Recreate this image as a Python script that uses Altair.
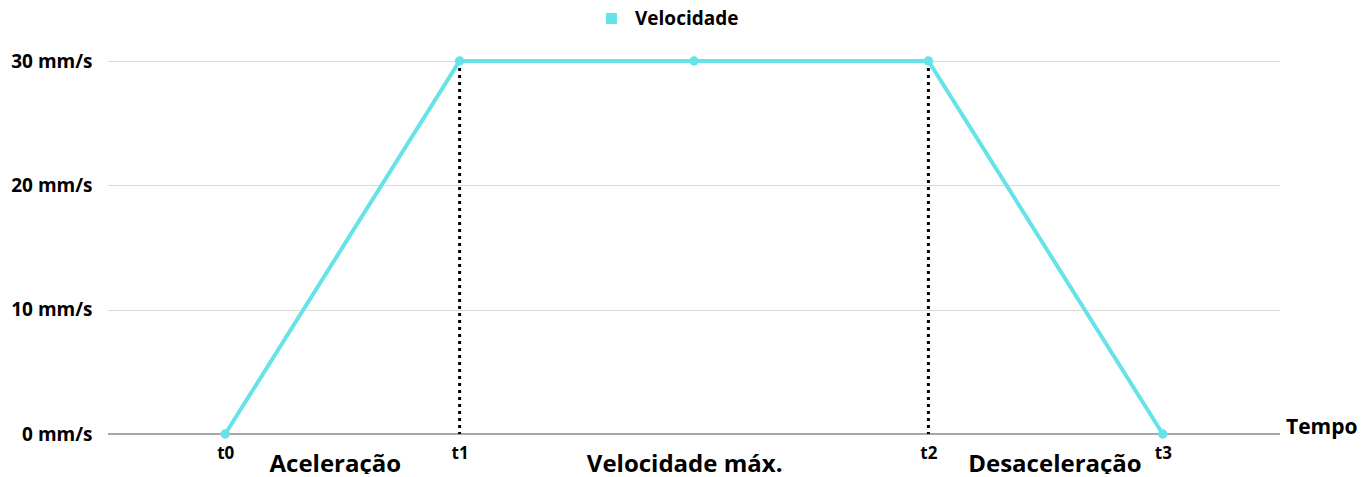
import altair as alt
import pandas as pd

categories = ["t0", "t1", "", "t2", "t3"]
positions = [0, 1, 2, 3, 4]
velocidade = [0, 30, 30, 30, 0]
series_name = "Velocidade"

phase_labels = ["Aceleração", "Velocidade máx.", "Desaceleração"]
phase_pos = [0.47, 1.96, 3.54]

marker_pos = [1, 3]
marker_top = [30, 30]

FONT = "Open Sans"
CYAN = "#66e3e8"

df = pd.DataFrame({"x": positions, "v": velocidade, "cat": categories, "s": [series_name] * 5})
df_phase = pd.DataFrame({"x": phase_pos, "label": phase_labels})
df_rule = pd.DataFrame({"x": marker_pos, "top": marker_top})
df_tempo = pd.DataFrame({"label": ["Tempo"]})

label_expr = "datum.value == 0 ? 't0' : datum.value == 1 ? 't1' : datum.value == 3 ? 't2' : datum.value == 4 ? 't3' : ''"

xscale = alt.Scale(domain=[-0.5, 4.5], nice=False, zero=False)
yscale = alt.Scale(domain=[0, 30], nice=False)

base = alt.Chart(df)

line = base.mark_line(color=CYAN, strokeWidth=4).encode(
    x=alt.X("x:Q", scale=xscale,
            axis=alt.Axis(values=positions, labelExpr=label_expr, title=None, grid=False,
                          ticks=False, domain=False, labelFont=FONT, labelFontSize=17,
                          labelFontWeight="bold", labelColor="#000", labelPadding=11)),
    y=alt.Y("v:Q", scale=yscale,
            axis=alt.Axis(values=[0, 10, 20, 30], labelExpr="datum.value + ' mm/s'", title=None,
                          grid=True, gridColor="#d9d9d9", gridWidth=1, ticks=False, domain=False,
                          labelFont=FONT, labelFontSize=19, labelFontWeight="bold",
                          labelColor="#000", labelPadding=16)),
    color=alt.Color("s:N", scale=alt.Scale(range=[CYAN]),
                    legend=alt.Legend(title=None, orient="none", legendX=494, legendY=-52,
                                      symbolType="square", symbolSize=121, symbolStrokeWidth=0,
                                      symbolFillColor=CYAN, symbolStrokeColor=CYAN,
                                      labelFont=FONT, labelFontSize=19, labelFontWeight="bold",
                                      labelColor="#000", labelOffset=14)),
)

points = base.mark_circle(size=90, opacity=1, color=CYAN).encode(
    x=alt.X("x:Q", scale=xscale),
    y=alt.Y("v:Q", scale=yscale),
)

zero_line = alt.Chart(pd.DataFrame({"y": [0]})).mark_rule(color="#a6a6a6", strokeWidth=2).encode(
    y=alt.Y("y:Q", scale=yscale),
)

rules = alt.Chart(df_rule).mark_rule(color="#000", strokeWidth=3, strokeDash=[3, 4]).encode(
    x=alt.X("x:Q", scale=xscale),
    y=alt.Y("top:Q", scale=yscale),
    y2=alt.datum(0),
)

phases = alt.Chart(df_phase).mark_text(font=FONT, fontSize=24, fontWeight="bold", color="#000",
                                       baseline="middle", align="center").encode(
    x=alt.X("x:Q", scale=xscale),
    y=alt.value(404),
    text="label:N",
)

tempo = alt.Chart(df_tempo).mark_text(font=FONT, fontSize=21, fontWeight="bold", color="#000",
                                      baseline="middle", align="left").encode(
    x=alt.value(1178),
    y=alt.value(367),
    text="label:N",
)

chart = alt.layer(zero_line, line, rules, points, phases, tempo).properties(
    width=1172, height=373,
    autosize=alt.AutoSizeParams(type="none"),
    padding={"left": 100, "top": 53, "right": 79, "bottom": 40},
    background="#ffffff",
).configure_view(stroke=None)

chart.save("out.html", embed_options={"renderer": "svg", "actions": False})
